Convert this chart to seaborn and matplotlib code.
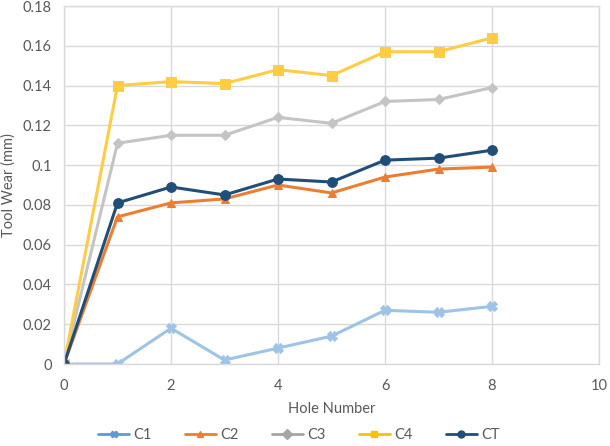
import matplotlib
matplotlib.use("Agg")
import matplotlib.pyplot as plt
from matplotlib.lines import Line2D
import numpy as np
import pandas as pd
import seaborn as sns

holes = [0, 1, 2, 3, 4, 5, 6, 7, 8]
c1 = [0, 0, 0.018, 0.002, 0.008, 0.014, 0.027, 0.026, 0.029]
c2 = [0, 0.074, 0.081, 0.083, 0.090, 0.086, 0.094, 0.098, 0.099]
c3 = [0, 0.111, 0.115, 0.115, 0.124, 0.121, 0.132, 0.133, 0.139]
c4 = [0, 0.140, 0.142, 0.141, 0.148, 0.145, 0.157, 0.157, 0.164]
ct = [0, 0.081, 0.089, 0.085, 0.093, 0.0915, 0.1025, 0.1035, 0.1075]

names = ["C1", "C2", "C3", "C4", "CT"]
colors = ["#9DC3E6", "#ED7D31", "#C4C4C4", "#FFCC44", "#1F4E79"]
legend_colors = ["#5B9BD5", "#ED7D31", "#A5A5A5", "#FFC000", "#1F4E79"]
markers = ["X", "^", "D", "s", "o"]
msizes = [7, 6, 5, 7, 7]

df = pd.DataFrame({"Hole": holes, "C1": c1, "C2": c2, "C3": c3, "C4": c4, "CT": ct})
long = df.melt(id_vars="Hole", var_name="Series", value_name="Wear")

sns.set_style("whitegrid")
plt.rcParams['font.family'] = ['Lato', 'DejaVu Sans']

fig = plt.figure(figsize=(6.1, 4.46), dpi=100)
ax = fig.add_axes([64 / 610, 1 - 364 / 446, 535 / 610, 358 / 446])

for name, col, mk, ms in zip(names, colors, markers, msizes):
    sub = long[long["Series"] == name]
    sns.lineplot(data=sub, x="Hole", y="Wear", ax=ax, color=col, marker=mk,
                 markersize=ms, markeredgecolor=col, linewidth=2.2, legend=False)

ax.set_xlim(0, 10)
ax.set_ylim(0, 0.18)
ax.set_xticks(np.arange(0, 11, 2))
ax.set_yticks(np.arange(0, 0.19, 0.02))
ax.set_yticklabels(["0", "0.02", "0.04", "0.06", "0.08", "0.1", "0.12", "0.14", "0.16", "0.18"])
ax.grid(True, color="#D9D9D9", linewidth=1)
for s in ax.spines.values():
    s.set_color("#D9D9D9")
    s.set_linewidth(1)
ax.tick_params(colors="#595959", labelsize=10.5, length=0)
ax.tick_params(axis="x", pad=11)
ax.tick_params(axis="y", pad=9)
ax.set_xlabel("Hole Number", color="#595959", fontsize=10.5, labelpad=6)
ax.set_ylabel("Tool Wear (mm)", color="#595959", fontsize=10.5)
ax.yaxis.set_label_coords(-48 / 535, 0.5)

handles = [Line2D([], [], color=c, marker=m, markersize=5, linewidth=2, markeredgecolor=c)
           for c, m in zip(legend_colors, markers)]
fig.legend(handles, names, loc="center", bbox_to_anchor=(0.49, 0.024), ncol=5,
           frameon=False, fontsize=10.5, labelcolor="#595959", columnspacing=2.3,
           handlelength=2.1, handletextpad=0.3)

fig.savefig("out.png", dpi=100)
